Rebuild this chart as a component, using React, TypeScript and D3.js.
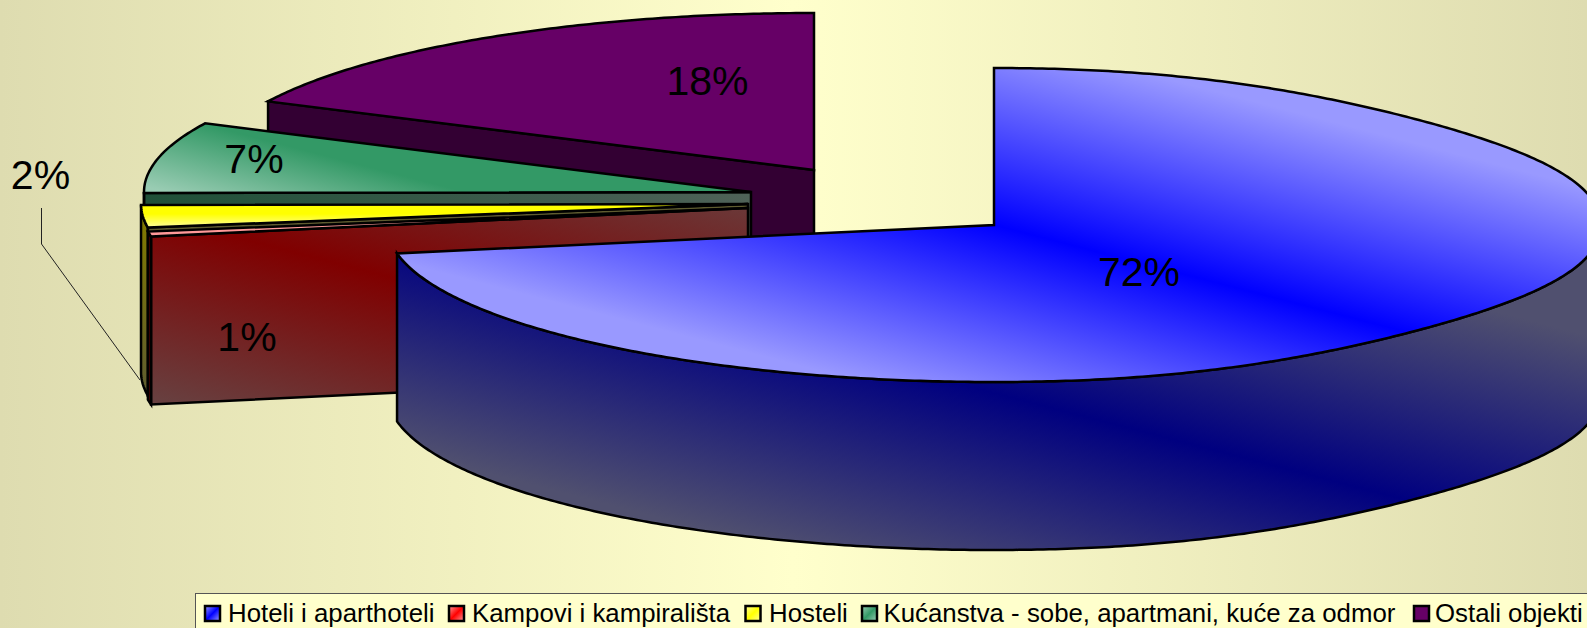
import React, { useEffect, useRef } from 'react';
import * as d3 from 'd3';

const categories = ['Hoteli i aparthoteli', 'Kampovi i kampirališta', 'Hosteli', 'Kućanstva - sobe, apartmani, kuće za odmor', 'Ostali objekti'];
// the labels show them rounded
const shares = [72.1, 0.5, 2.3, 7.3, 17.8];

const baseColors = ['#0000ff', '#ff0000', '#ffff00', '#339966', '#660066'];
const lightColors = ['#9999ff', '#ff9999', '#ffff99', '#99ccb3', '#660066'];

// exploded slice centres
const centers = [
  { x: 994, y: 225 },
  { x: 748, y: 208 },
  { x: 748, y: 204 },
  { x: 751, y: 192 },
  { x: 814, y: 170 },
];
// the big slice's right side is a bit flatter than a true ellipse on the diagonals
const rimFlatten = [0.032, 0, 0, 0, 0];
const labelPos = [
  { x: 1139, y: 272 },
  { x: 247, y: 337 },
  { x: 40.5, y: 175 },
  { x: 254, y: 159 },
  { x: 707.5, y: 81 },
];
const legendSwatchX = [205, 449, 745.5, 862, 1414];
const legendTextX = [228, 472, 769, 883.5, 1435];

const W = 1587;
const H = 628;
const RX = 607;
const RY = 157;
const DEPTH = 168;
const HALF_PI = Math.PI / 2;

// direction across the diagonal shading band
const nx = -0.251;
const ny = 0.968;

export default function App() {
  const ref = useRef<SVGSVGElement>(null);

  useEffect(() => {
    if (!ref.current) return;
    const svg = d3.select(ref.current);
    svg.selectAll('*').remove();
    const defs = svg.append('defs');

    const linear = (id: string, x1: number, y1: number, x2: number, y2: number, stops: [number, string][]) => {
      const g = defs.append('linearGradient')
        .attr('id', id)
        .attr('gradientUnits', 'userSpaceOnUse')
        .attr('x1', x1).attr('y1', y1).attr('x2', x2).attr('y2', y2);
      stops.forEach(([o, c]) => g.append('stop').attr('offset', o).attr('stop-color', c));
    };
    const axial = (id: string, cx: number, cy: number, half: number, end: string, mid: string, endTop = end) =>
      linear(id, cx - nx * half, cy - ny * half, cx + nx * half, cy + ny * half, [[0, endTop], [0.5, mid], [1, end]]);

    // page background
    linear('bg', 0, 0, W, 0, [[0, '#dedcb0'], [0.5, '#ffffcc'], [1, '#dedcb0']]);
    svg.append('rect').attr('width', W).attr('height', H).attr('fill', 'url(#bg)');

    // slice shading
    axial('top0', centers[0].x, centers[0].y, 185, lightColors[0], baseColors[0]);
    axial('wall0', centers[0].x, centers[0].y + DEPTH, 205, '#50506f', '#000080');
    axial('face1', 220, 233, 190, '#664444', '#800000');
    axial('top3', 207, 125, 75, lightColors[3], baseColors[3], baseColors[3]);
    linear('face3', 143, 0, 751, 0, [[0, '#1f5038'], [1, '#4f6258']]);
    linear('top2', 0, 204, 0, 226, [[0, '#ffff00'], [0.45, '#ffff00'], [1, '#ffff88']]);
    linear('wall2', 0, 220, 0, 395, [[0, '#807800'], [1, '#5f5c30']]);

    const tops = ['url(#top0)', lightColors[1], 'url(#top2)', 'url(#top3)', baseColors[4]];
    const walls = ['url(#wall0)', '#500000', 'url(#wall2)', 'none', 'none'];
    const faces = ['none', 'url(#face1)', '#5f5c30', 'url(#face3)', '#330033'];

    const pie = d3.pie<number>().sort(null).startAngle(0).endAngle(2 * Math.PI);
    const arcs = pie(shares);

    const ptAt = (i: number, a: number, dy = 0): [number, number] => {
      const r = a < Math.PI ? 1 - rimFlatten[i] * Math.abs(Math.sin(2 * a)) ** 3 : 1;
      return [centers[i].x + RX * r * Math.sin(a), centers[i].y - RY * r * Math.cos(a) + dy];
    };
    const rim = (i: number, a0: number, a1: number, dy = 0): [number, number][] => {
      const steps = Math.max(2, Math.ceil((a1 - a0) / 0.01));
      return d3.range(steps + 1).map((k) => ptAt(i, a0 + ((a1 - a0) * k) / steps, dy));
    };
    const line = d3.line();

    const topPath = (i: number, a0: number, a1: number) =>
      line([[centers[i].x, centers[i].y], ...rim(i, a0, a1)]) + 'Z';
    const wallPath = (i: number, a0: number, a1: number) => {
      const from = Math.max(a0, HALF_PI);
      const to = Math.min(a1, 3 * HALF_PI);
      if (from >= to) return null;
      return line([...rim(i, from, to), ...rim(i, from, to, DEPTH).reverse()]) + 'Z';
    };
    const facePath = (i: number, a: number) => {
      const [sx, sy] = ptAt(i, a);
      const { x, y } = centers[i];
      return line([[sx, sy], [x, y], [x, y + DEPTH], [sx, sy + DEPTH]]) + 'Z';
    };

    const slices = svg.append('g').attr('stroke', '#000').attr('stroke-width', 2.5).attr('stroke-linejoin', 'miter');

    // back to front, the big blue slice goes last
    d3.range(arcs.length).reverse().forEach((i) => {
      const { startAngle, endAngle } = arcs[i];
      if (faces[i] !== 'none') slices.append('path').attr('d', facePath(i, startAngle)).attr('fill', faces[i]);
      const wall = wallPath(i, startAngle, endAngle);
      if (wall) slices.append('path').attr('d', wall).attr('fill', walls[i]);
      slices.append('path').attr('d', topPath(i, startAngle, endAngle)).attr('fill', tops[i]);
    });

    // leader for the 2% label
    svg.append('path')
      .attr('d', 'M41.5,208V244L140,380')
      .attr('fill', 'none')
      .attr('stroke', '#222')
      .attr('stroke-width', 1);

    // percent labels
    svg.append('g')
      .selectAll('text')
      .data(shares)
      .join('text')
      .attr('x', (_, i) => labelPos[i].x)
      .attr('y', (_, i) => labelPos[i].y)
      .attr('text-anchor', 'middle')
      .attr('dominant-baseline', 'central')
      .attr('font-family', '"Liberation Sans", Arial, sans-serif')
      .attr('font-size', 41)
      .attr('fill', '#000')
      .text((d) => `${Math.round(d)}%`);

    // legend
    svg.append('rect')
      .attr('x', 195.5).attr('y', 593.5)
      .attr('width', W).attr('height', 60)
      .attr('fill', '#ffffcc')
      .attr('stroke', '#555')
      .attr('stroke-width', 1);

    categories.forEach((c, i) => {
      const g = defs.append('linearGradient')
        .attr('id', `sw${i}`)
        .attr('x1', 0).attr('y1', 0).attr('x2', 1).attr('y2', 1);
      [[0, lightColors[i]], [0.5, baseColors[i]], [1, lightColors[i]]].forEach(([o, col]) =>
        g.append('stop').attr('offset', o as number).attr('stop-color', col as string));
      svg.append('rect')
        .attr('x', legendSwatchX[i]).attr('y', 606)
        .attr('width', 15).attr('height', 15)
        .attr('fill', `url(#sw${i})`)
        .attr('stroke', '#000')
        .attr('stroke-width', 2.5);
      svg.append('text')
        .attr('x', legendTextX[i]).attr('y', 622)
        .attr('font-family', '"Liberation Sans", Arial, sans-serif')
        .attr('font-size', 25.8)
        .attr('fill', '#000')
        .text(c);
    });
  }, []);

  return (
    <svg
      ref={ref}
      width={W}
      height={H}
      viewBox={`0 0 ${W} ${H}`}
      style={{ position: 'absolute', left: 0, top: 0, display: 'block' }}
    />
  );
}
